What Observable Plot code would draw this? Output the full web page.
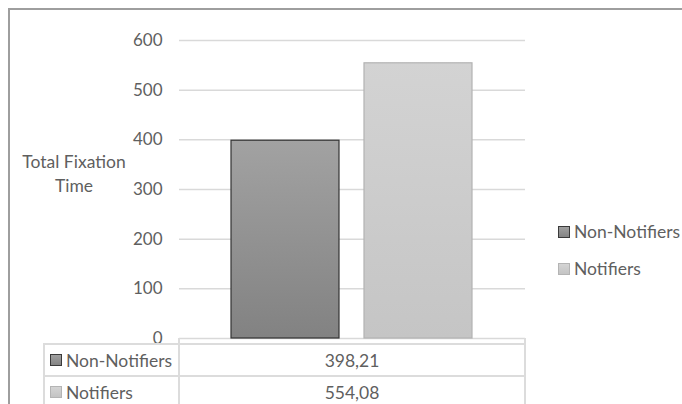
<!DOCTYPE html>
<html>
<head>
<meta charset="utf-8">
<script src="https://cdn.jsdelivr.net/npm/d3@7"></script>
<script src="https://cdn.jsdelivr.net/npm/@observablehq/plot@0.6"></script>
<style>
  body { margin: 0; background: #fff; }
  #wrap { position: relative; width: 682px; height: 404px; overflow: hidden; font-family: Lato, "Open Sans", sans-serif; color: #5f5f5f; }
  #wrap svg { position: absolute; left: 0; top: 0; }
  .frame { position: absolute; left: 8px; top: 8px; width: 680px; height: 400px; border-top: 2px solid #9e9e9e; border-left: 2px solid #9e9e9e; }
  .ylab { position: absolute; left: 0px; top: 150px; width: 148px; text-align: center; font-size: 17.5px; line-height: 24px; }
  .leg { position: absolute; left: 558px; font-size: 17.5px; display: flex; align-items: center; gap: 4px; white-space: nowrap; }
  .sw { width: 10px; height: 10px; display: inline-block; }
  .sw.dark { background: linear-gradient(#a0a0a0, #848484); border: 1px solid #3a3a3a; }
  .sw.light { background: linear-gradient(#d4d4d4, #c4c4c4); border: 1px solid #b4b4b4; }
  .cell { position: absolute; box-sizing: border-box; font-size: 17.5px; display: flex; align-items: center; white-space: nowrap; }
  .line { position: absolute; background: #dcdcdc; }
</style>
</head>
<body>
<div id="wrap"></div>
<script>
const series = ["Non-Notifiers", "Notifiers"];
const values = [398.21, 554.08];
const valueLabels = ["398,21", "554,08"];
const yTicks = [0, 100, 200, 300, 400, 500, 600];
const yLabel = ["Total Fixation", "Time"];

const data = series.map((s, i) => ({ series: s, value: values[i] }));

const wrap = document.getElementById("wrap");

const plot = Plot.plot({
  width: 682,
  height: 404,
  marginTop: 40,
  marginBottom: 66,
  marginLeft: 179,
  marginRight: 157,
  style: { fontFamily: "Lato, 'Open Sans', sans-serif", fontSize: "17px", color: "#5f5f5f", background: "transparent" },
  x: { domain: series, range: [231, 473], paddingInner: 0.187, paddingOuter: 0, axis: null },
  y: { domain: [0, 600], ticks: yTicks, tickSize: 0, tickPadding: 17, label: null },
  marks: [
    Plot.ruleY(yTicks, { stroke: "#d9d9d9", strokeWidth: 1.5 }),
    Plot.barY(data.filter(d => d.series === series[0]), { x: "series", y: "value", fill: "url(#gDark)", stroke: "#333333", strokeWidth: 1.2 }),
    Plot.barY(data.filter(d => d.series === series[1]), { x: "series", y: "value", fill: "url(#gLight)", stroke: "#b2b2b2", strokeWidth: 1.2 })
  ]
});

const svg = d3.select(plot);
const defs = svg.insert("defs", ":first-child");
function grad(id, c1, c2) {
  const g = defs.append("linearGradient").attr("id", id).attr("x1", 0).attr("y1", 0).attr("x2", 0).attr("y2", 1);
  g.append("stop").attr("offset", "0%").attr("stop-color", c1);
  g.append("stop").attr("offset", "100%").attr("stop-color", c2);
}
grad("gDark", "#a2a2a2", "#828282");
grad("gLight", "#d3d3d3", "#c5c5c5");

const frame = document.createElement("div");
frame.className = "frame";
wrap.appendChild(frame);
wrap.appendChild(plot);

const yl = document.createElement("div");
yl.className = "ylab";
yl.innerHTML = yLabel.join("<br>");
wrap.appendChild(yl);

series.forEach((s, i) => {
  const d = document.createElement("div");
  d.className = "leg";
  d.style.top = (221 + i * 37) + "px";
  d.innerHTML = `<span class="sw ${i === 0 ? "dark" : "light"}"></span><span>${s}</span>`;
  wrap.appendChild(d);
});

function line(l, t, w, h) {
  const e = document.createElement("div");
  e.className = "line";
  Object.assign(e.style, { left: l + "px", top: t + "px", width: w + "px", height: h + "px" });
  wrap.appendChild(e);
}
const rowTop = 344, rowH = 32;
line(44, rowTop - 1, 482, 2);
line(178, 338, 2, 70);
line(524, 338, 2, 70);
line(43, rowTop - 1, 2, 70);
series.forEach((s, i) => {
  const top = rowTop + i * rowH;
  line(44, top + rowH - 1, 482, 2);
  const c1 = document.createElement("div");
  c1.className = "cell";
  Object.assign(c1.style, { left: "50px", top: top + "px", width: "128px", height: rowH + "px", gap: "4px" });
  c1.innerHTML = `<span class="sw ${i === 0 ? "dark" : "light"}"></span><span>${s}</span>`;
  wrap.appendChild(c1);
  const c2 = document.createElement("div");
  c2.className = "cell";
  Object.assign(c2.style, { left: "179px", top: top + "px", width: "346px", height: rowH + "px", justifyContent: "center" });
  c2.textContent = valueLabels[i];
  wrap.appendChild(c2);
});
</script>
</body>
</html>
